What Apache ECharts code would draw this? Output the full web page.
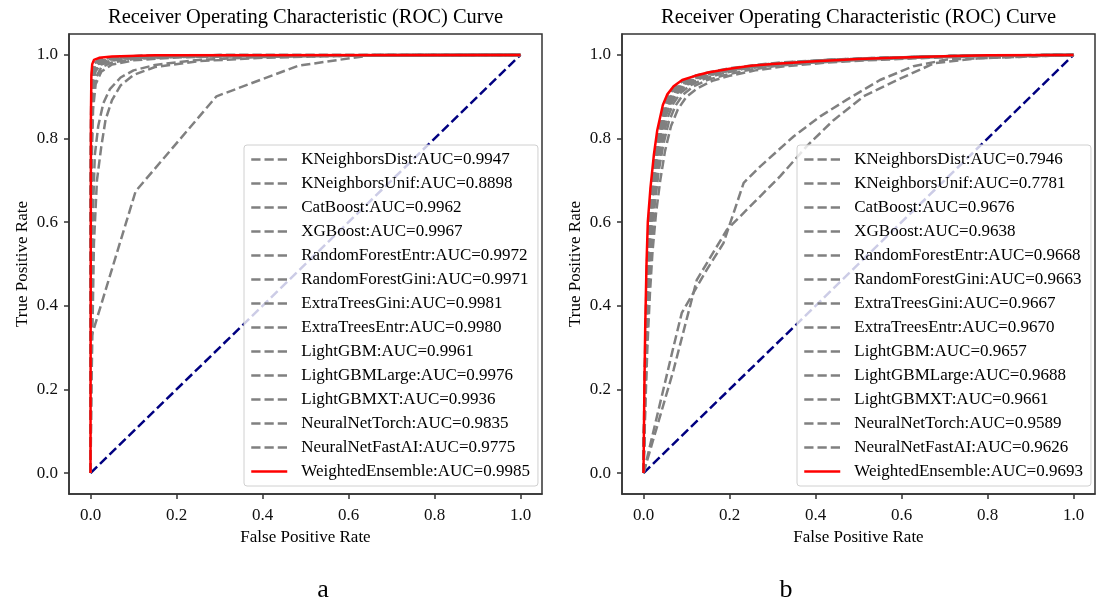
<!DOCTYPE html>
<html>
<head>
<meta charset="utf-8">
<script src="https://cdn.jsdelivr.net/npm/echarts@6/dist/echarts.min.js"></script>
<style>
  html, body { margin: 0; padding: 0; background: #fff; }
  #chart { width: 1100px; height: 603px; }
</style>
</head>
<body>
<div id="chart"></div>
<script>
// ---- data ----
const models = [
  'KNeighborsDist', 'KNeighborsUnif', 'CatBoost', 'XGBoost',
  'RandomForestEntr', 'RandomForestGini', 'ExtraTreesGini', 'ExtraTreesEntr',
  'LightGBM', 'LightGBMLarge', 'LightGBMXT', 'NeuralNetTorch', 'NeuralNetFastAI',
  'WeightedEnsemble'
];
const aucA = ['0.9947', '0.8898', '0.9962', '0.9967', '0.9972', '0.9971', '0.9981',
  '0.9980', '0.9961', '0.9976', '0.9936', '0.9835', '0.9775', '0.9985'];
const aucB = ['0.7946', '0.7781', '0.9676', '0.9638', '0.9668', '0.9663', '0.9667',
  '0.9670', '0.9657', '0.9688', '0.9661', '0.9589', '0.9626', '0.9693'];

const tickValues = [0, 0.2, 0.4, 0.6, 0.8, 1.0];
const tickLabels = ['0.0', '0.2', '0.4', '0.6', '0.8', '1.0'];
const chanceLine = [[0, 0], [1, 1]];

// ROC points [FPR, TPR] - panel a
const rocA_KNeighborsDist = [[0,0],[0.001,0.45],[0.003,0.8],[0.006,0.9],[0.012,0.945],[0.025,0.97],[0.05,0.982],[0.1,0.99],[0.2,0.995],[0.4,0.998],[1,1]];
const rocA_KNeighborsUnif = [[0,0],[0,0.319],[0.105,0.674],[0.293,0.901],[0.483,0.974],[0.657,1],[1,1]];
const rocA_CatBoost = [[0,0],[0.001,0.6],[0.003,0.88],[0.006,0.94],[0.012,0.965],[0.025,0.978],[0.05,0.987],[0.1,0.993],[0.25,0.997],[0.5,0.999],[1,1]];
const rocA_XGBoost = [[0,0],[0.001,0.65],[0.003,0.9],[0.006,0.95],[0.012,0.97],[0.025,0.981],[0.05,0.989],[0.1,0.994],[0.25,0.998],[1,1]];
const rocA_RandomForestEntr = [[0,0],[0.001,0.72],[0.003,0.92],[0.006,0.96],[0.012,0.975],[0.03,0.986],[0.06,0.992],[0.15,0.997],[0.35,0.999],[1,1]];
const rocA_RandomForestGini = [[0,0],[0.001,0.7],[0.003,0.915],[0.006,0.958],[0.012,0.974],[0.03,0.985],[0.06,0.992],[0.15,0.997],[0.35,0.999],[1,1]];
const rocA_ExtraTreesGini = [[0,0],[0.001,0.8],[0.002,0.93],[0.004,0.965],[0.008,0.98],[0.02,0.989],[0.05,0.994],[0.12,0.998],[0.3,0.9995],[1,1]];
const rocA_ExtraTreesEntr = [[0,0],[0.001,0.78],[0.002,0.925],[0.004,0.962],[0.008,0.978],[0.02,0.988],[0.05,0.994],[0.12,0.998],[0.3,0.9995],[1,1]];
const rocA_LightGBM = [[0,0],[0.001,0.6],[0.003,0.87],[0.006,0.935],[0.012,0.962],[0.025,0.977],[0.05,0.987],[0.1,0.993],[0.25,0.997],[0.5,0.999],[1,1]];
const rocA_LightGBMLarge = [[0,0],[0.001,0.75],[0.002,0.9],[0.004,0.95],[0.008,0.972],[0.02,0.985],[0.05,0.992],[0.12,0.997],[0.3,0.999],[1,1]];
const rocA_LightGBMXT = [[0,0],[0.001,0.4],[0.003,0.75],[0.006,0.87],[0.012,0.93],[0.025,0.96],[0.05,0.977],[0.1,0.987],[0.2,0.994],[0.4,0.998],[1,1]];
const rocA_NeuralNetTorch = [[0,0],[0.002,0.3],[0.005,0.6],[0.01,0.76],[0.018,0.83],[0.03,0.885],[0.045,0.918],[0.07,0.946],[0.1,0.963],[0.15,0.976],[0.25,0.988],[0.4,0.995],[0.6,0.998],[1,1]];
const rocA_NeuralNetFastAI = [[0,0],[0.003,0.25],[0.008,0.55],[0.015,0.7],[0.025,0.78],[0.035,0.845],[0.05,0.892],[0.07,0.927],[0.1,0.952],[0.15,0.971],[0.25,0.985],[0.4,0.993],[0.6,0.998],[1,1]];
const rocA_WeightedEnsemble = [[0,0],[0.001,0.85],[0.002,0.95],[0.004,0.978],[0.008,0.988],[0.02,0.993],[0.05,0.996],[0.15,0.999],[1,1]];

// ROC points [FPR, TPR] - panel b
const rocB_KNeighborsDist = [[0,0],[0.07,0.303],[0.089,0.383],[0.147,0.486],[0.186,0.55],[0.233,0.694],[0.271,0.733],[0.349,0.805],[0.411,0.853],[0.473,0.893],[0.55,0.94],[0.628,0.973],[0.705,0.989],[1,1]];
const rocB_KNeighborsUnif = [[0,0],[0.07,0.247],[0.124,0.462],[0.194,0.582],[0.256,0.646],[0.318,0.71],[0.38,0.782],[0.442,0.844],[0.512,0.901],[0.59,0.94],[0.676,0.98],[0.78,0.992],[1,1]];
const rocB_CatBoost = [[0,0],[0.003,0.2],[0.006,0.35],[0.01,0.5],[0.014,0.6],[0.02,0.68],[0.028,0.76],[0.037,0.82],[0.05,0.87],[0.062,0.9],[0.078,0.922],[0.1,0.937],[0.13,0.949],[0.17,0.959],[0.22,0.969],[0.28,0.977],[0.35,0.983],[0.45,0.989],[0.55,0.993],[0.7,0.997],[0.85,0.999],[1,1]];
const rocB_XGBoost = [[0,0],[0.003,0.18],[0.007,0.32],[0.012,0.46],[0.017,0.56],[0.024,0.65],[0.033,0.73],[0.043,0.79],[0.056,0.85],[0.07,0.885],[0.087,0.91],[0.11,0.928],[0.14,0.942],[0.18,0.955],[0.23,0.966],[0.3,0.975],[0.38,0.982],[0.48,0.988],[0.6,0.993],[0.75,0.997],[0.88,0.999],[1,1]];
const rocB_RandomForestEntr = [[0,0],[0.003,0.22],[0.006,0.36],[0.01,0.49],[0.015,0.59],[0.021,0.67],[0.029,0.75],[0.038,0.81],[0.05,0.865],[0.063,0.895],[0.08,0.918],[0.1,0.934],[0.13,0.947],[0.17,0.958],[0.22,0.968],[0.28,0.976],[0.35,0.982],[0.45,0.988],[0.55,0.992],[0.7,0.997],[0.85,0.999],[1,1]];
const rocB_RandomForestGini = [[0,0],[0.003,0.21],[0.006,0.35],[0.011,0.49],[0.016,0.59],[0.022,0.67],[0.03,0.75],[0.04,0.81],[0.052,0.862],[0.065,0.893],[0.082,0.916],[0.1,0.932],[0.13,0.946],[0.17,0.957],[0.22,0.967],[0.28,0.975],[0.35,0.982],[0.45,0.988],[0.55,0.992],[0.7,0.997],[0.85,0.999],[1,1]];
const rocB_ExtraTreesGini = [[0,0],[0.003,0.21],[0.006,0.36],[0.01,0.5],[0.015,0.6],[0.021,0.68],[0.029,0.755],[0.039,0.815],[0.051,0.865],[0.064,0.895],[0.08,0.918],[0.1,0.933],[0.13,0.947],[0.17,0.958],[0.22,0.968],[0.28,0.976],[0.35,0.982],[0.45,0.988],[0.55,0.992],[0.7,0.997],[0.85,0.999],[1,1]];
const rocB_ExtraTreesEntr = [[0,0],[0.003,0.22],[0.006,0.37],[0.01,0.51],[0.015,0.61],[0.021,0.69],[0.029,0.76],[0.038,0.82],[0.05,0.868],[0.063,0.898],[0.079,0.92],[0.1,0.935],[0.13,0.948],[0.17,0.959],[0.22,0.969],[0.28,0.977],[0.35,0.983],[0.45,0.989],[0.55,0.993],[0.7,0.997],[0.85,0.999],[1,1]];
const rocB_LightGBM = [[0,0],[0.003,0.19],[0.007,0.34],[0.011,0.47],[0.016,0.57],[0.023,0.66],[0.031,0.74],[0.041,0.8],[0.053,0.857],[0.067,0.89],[0.084,0.914],[0.105,0.93],[0.135,0.945],[0.175,0.957],[0.225,0.967],[0.29,0.975],[0.36,0.982],[0.46,0.988],[0.56,0.992],[0.7,0.997],[0.86,0.999],[1,1]];
const rocB_LightGBMLarge = [[0,0],[0.002,0.2],[0.005,0.36],[0.008,0.5],[0.012,0.6],[0.018,0.68],[0.026,0.76],[0.035,0.82],[0.047,0.875],[0.058,0.902],[0.073,0.923],[0.093,0.938],[0.12,0.95],[0.155,0.959],[0.2,0.968],[0.26,0.976],[0.32,0.982],[0.42,0.988],[0.52,0.992],[0.65,0.996],[0.8,0.999],[1,1]];
const rocB_LightGBMXT = [[0,0],[0.003,0.2],[0.006,0.35],[0.011,0.48],[0.016,0.58],[0.022,0.67],[0.03,0.75],[0.04,0.81],[0.052,0.862],[0.066,0.893],[0.083,0.916],[0.104,0.932],[0.134,0.946],[0.173,0.957],[0.223,0.967],[0.285,0.975],[0.355,0.982],[0.455,0.988],[0.555,0.992],[0.7,0.997],[0.85,0.999],[1,1]];
const rocB_NeuralNetTorch = [[0,0],[0.004,0.15],[0.009,0.3],[0.015,0.43],[0.021,0.53],[0.029,0.62],[0.039,0.7],[0.05,0.77],[0.064,0.83],[0.08,0.87],[0.1,0.9],[0.125,0.92],[0.16,0.938],[0.2,0.95],[0.26,0.963],[0.33,0.973],[0.42,0.981],[0.52,0.987],[0.64,0.992],[0.78,0.997],[0.9,0.999],[1,1]];
const rocB_NeuralNetFastAI = [[0,0],[0.004,0.17],[0.008,0.31],[0.013,0.45],[0.019,0.55],[0.026,0.64],[0.035,0.72],[0.046,0.785],[0.059,0.84],[0.074,0.878],[0.092,0.905],[0.115,0.924],[0.148,0.94],[0.19,0.952],[0.245,0.964],[0.31,0.974],[0.39,0.981],[0.49,0.987],[0.6,0.992],[0.75,0.997],[0.88,0.999],[1,1]];
const rocB_WeightedEnsemble = [[0,0],[0.002,0.2],[0.004,0.35],[0.007,0.5],[0.01,0.6],[0.016,0.68],[0.024,0.76],[0.032,0.82],[0.045,0.88],[0.055,0.905],[0.07,0.925],[0.09,0.94],[0.12,0.95],[0.15,0.958],[0.2,0.967],[0.25,0.974],[0.3,0.978],[0.4,0.985],[0.5,0.99],[0.6,0.994],[0.7,0.997],[0.8,0.999],[1,1]];

const curvesA = [rocA_KNeighborsDist, rocA_KNeighborsUnif, rocA_CatBoost, rocA_XGBoost,
  rocA_RandomForestEntr, rocA_RandomForestGini, rocA_ExtraTreesGini, rocA_ExtraTreesEntr,
  rocA_LightGBM, rocA_LightGBMLarge, rocA_LightGBMXT, rocA_NeuralNetTorch, rocA_NeuralNetFastAI,
  rocA_WeightedEnsemble];
const curvesB = [rocB_KNeighborsDist, rocB_KNeighborsUnif, rocB_CatBoost, rocB_XGBoost,
  rocB_RandomForestEntr, rocB_RandomForestGini, rocB_ExtraTreesGini, rocB_ExtraTreesEntr,
  rocB_LightGBM, rocB_LightGBMLarge, rocB_LightGBMXT, rocB_NeuralNetTorch, rocB_NeuralNetFastAI,
  rocB_WeightedEnsemble];

// ---- styling ----
const FONT = "'Liberation Serif', 'Times New Roman', serif";
const SPINE = '#333';
const DASH = [9.25, 4];
const panels = [
  { left: 69, legendLeft: 244, title: 'Receiver Operating Characteristic (ROC) Curve', caption: 'a', captionX: 323 },
  { left: 622, legendLeft: 797, title: 'Receiver Operating Characteristic (ROC) Curve', caption: 'b', captionX: 786 }
];
const GRID_W = 473, GRID_H = 460, GRID_TOP = 34;

function tickFmt(v) {
  const i = tickValues.findIndex(t => Math.abs(t - v) < 1e-9);
  return i >= 0 ? tickLabels[i] : '';
}

function axisCommon(name, nameGap, labelMargin) {
  return {
    type: 'value',
    min: -0.05,
    max: 1.05,
    name: name,
    nameLocation: 'middle',
    nameGap: nameGap,
    nameTextStyle: { fontFamily: FONT, fontSize: 17, color: '#000' },
    axisLine: { show: true, onZero: false, lineStyle: { color: SPINE, width: 1.5 } },
    axisTick: { show: true, length: 5, customValues: tickValues, lineStyle: { color: SPINE, width: 1.5 } },
    axisLabel: { customValues: tickValues, formatter: tickFmt, fontFamily: FONT, fontSize: 17, color: '#111', margin: labelMargin },
    splitLine: { show: false }
  };
}

const grids = [], xAxes = [], yAxes = [], legends = [], series = [], graphics = [];
const curveSets = [curvesA, curvesB];
const aucSets = [aucA, aucB];

panels.forEach((p, k) => {
  grids.push({ left: p.left, top: GRID_TOP, width: GRID_W, height: GRID_H,
    show: true, borderColor: SPINE, borderWidth: 1.5, backgroundColor: '#fff' });
  xAxes.push(Object.assign({ gridIndex: k }, axisCommon('False Positive Rate', 35, 13)));
  yAxes.push(Object.assign({ gridIndex: k }, axisCommon('True Positive Rate', 38, 11)));

  const names = models.map((m, i) => m + ':AUC=' + aucSets[k][i]);

  // chance diagonal
  series.push({
    type: 'line', name: 'chance' + k, xAxisIndex: k, yAxisIndex: k,
    data: chanceLine, symbol: 'none', silent: true, z: 2,
    lineStyle: { color: '#000080', width: 2.5, type: DASH }
  });

  models.forEach((m, i) => {
    const ens = m === 'WeightedEnsemble';
    series.push({
      type: 'line', name: names[i], xAxisIndex: k, yAxisIndex: k,
      data: curveSets[k][i], symbol: 'none', silent: true, z: ens ? 4 : 3,
      itemStyle: { color: ens ? '#ff0000' : '#808080' },
      lineStyle: ens ? { color: '#ff0000', width: 2.5, type: 'solid' }
                     : { color: '#808080', width: 2.5, type: DASH }
    });
  });

  legends.push({
    data: names, orient: 'vertical', left: p.legendLeft, top: 145,
    padding: [6, 8, 6, 6], itemWidth: 36, itemHeight: 14, itemGap: 7,
    selectedMode: false,
    itemStyle: { opacity: 0, borderWidth: 0 },
    lineStyle: { width: 2.5 },
    textStyle: { fontFamily: FONT, fontSize: 17, lineHeight: 17, color: '#000', padding: [0, 0, 0, 9] },
    backgroundColor: 'rgba(255,255,255,0.8)', borderColor: '#d0d0d0', borderWidth: 1, borderRadius: 3
  });

  graphics.push({
    type: 'text', x: p.left + GRID_W / 2, y: 18,
    style: { text: p.title, fontFamily: FONT, fontSize: 20.5, fill: '#000', textAlign: 'center', textVerticalAlign: 'middle' }
  });
  graphics.push({
    type: 'text', x: p.captionX, y: 590,
    style: { text: p.caption, fontFamily: FONT, fontSize: 26, fill: '#000', textAlign: 'center', textVerticalAlign: 'middle' }
  });
});

const chart = echarts.init(document.getElementById('chart'), null, { renderer: 'canvas' });
chart.setOption({
  animation: false,
  backgroundColor: '#fff',
  grid: grids,
  xAxis: xAxes,
  yAxis: yAxes,
  legend: legends,
  series: series,
  graphic: graphics
});
</script>
</body>
</html>
